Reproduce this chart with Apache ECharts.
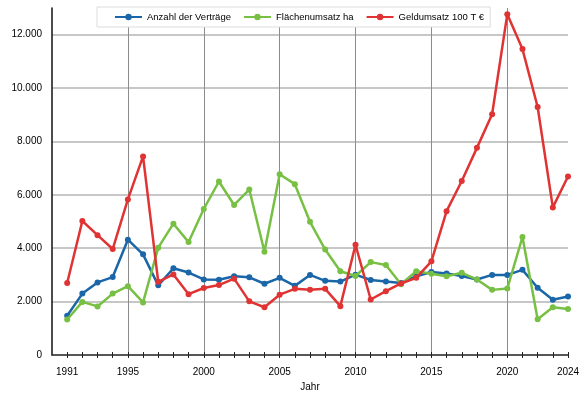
<!DOCTYPE html>
<html><head><meta charset="utf-8">
<script src="https://cdn.jsdelivr.net/npm/echarts@6/dist/echarts.min.js"></script>
<style>html,body{margin:0;padding:0;background:#fff}#c{width:586px;height:393px}</style>
</head><body><div id="c"></div>
<script>
const years = [];
for (let y = 1991; y <= 2024; y++) years.push(y);
const labelYears = [1991, 1995, 2000, 2005, 2010, 2015, 2020, 2024];
const gridYears = [1995, 2000, 2005, 2010, 2015, 2020];
const yTicks = [0, 2000, 4000, 6000, 8000, 10000, 12000];
const seriesNames = ['Anzahl der Verträge', 'Flächenumsatz ha', 'Geldumsatz 100 T €'];
const anzahl = [1470, 2300, 2720, 2920, 4320, 3770, 2610, 3250, 3090, 2830, 2820, 2950, 2910, 2670, 2890, 2590, 3000, 2780, 2750, 3010, 2810, 2750, 2700, 2950, 3110, 3050, 2960, 2830, 3000, 3000, 3190, 2520, 2070, 2190];
const flaeche = [1330, 1990, 1820, 2300, 2580, 1970, 4020, 4920, 4230, 5470, 6500, 5620, 6200, 3870, 6770, 6400, 4990, 3950, 3140, 2960, 3480, 3370, 2650, 3140, 3040, 2950, 3080, 2830, 2440, 2490, 4420, 1340, 1790, 1720];
const geld = [2700, 5020, 4490, 3970, 5830, 7440, 2740, 3020, 2280, 2510, 2620, 2860, 2010, 1790, 2260, 2480, 2440, 2480, 1830, 4130, 2080, 2390, 2680, 2890, 3510, 5390, 6520, 7760, 9020, 12770, 11460, 9290, 5530, 6690];
const colors = ['#1a66a8', '#78c043', '#e03333'];
const FONT = '"Liberation Sans Narrow", "Arial Narrow", "Liberation Sans", Arial, sans-serif';

const chart = echarts.init(document.getElementById('c'), null, {renderer: 'canvas'});
function mk(name, vals, i) {
  return {
    name: name, type: 'line', xAxisIndex: 0, yAxisIndex: 0,
    data: years.map((y, k) => [y, vals[k]]),
    symbol: 'circle', symbolSize: 6, showSymbol: true,
    lineStyle: {width: 2.5, color: colors[i]},
    itemStyle: {color: colors[i]},
    z: 3 + i, animation: false
  };
}
chart.setOption({
  animation: false,
  textStyle: {fontFamily: FONT},
  grid: {left: 52, right: 18, top: 8, bottom: 38, containLabel: false, outerBoundsMode: 'none'},
  legend: {
    left: 97, top: 7, padding: [5, 6, 5, 17], itemGap: 12, itemWidth: 27, itemHeight: 8,
    backgroundColor: '#fff', borderColor: '#dcdcdc', borderWidth: 1, z: 10,
    textStyle: {fontFamily: FONT, fontSize: 9.5, color: '#000'},
    data: seriesNames
  },
  xAxis: [
    {
      type: 'value', min: 1990, max: 2024, position: 'bottom',
      name: 'Jahr', nameLocation: 'middle', nameGap: 24,
      nameTextStyle: {fontFamily: FONT, fontSize: 10, color: '#000'},
      axisLine: {show: true, lineStyle: {color: '#333', width: 1.5}},
      axisTick: {show: true, customValues: years, length: 3, lineStyle: {color: '#222', width: 1}},
      axisLabel: {customValues: labelYears, fontFamily: FONT, fontSize: 10, color: '#000', margin: 12,
        formatter: v => String(v)},
      splitLine: {show: false}
    },
    {
      type: 'value', min: 1990, max: 2024, position: 'top',
      axisLine: {show: false, onZero: true, onZeroAxisIndex: 0},
      axisTick: {show: true, inside: false, customValues: years, length: 3, lineStyle: {color: '#222', width: 1}},
      axisLabel: {show: false},
      splitLine: {show: false}
    },
    {
      type: 'value', min: 1990, max: 2024, position: 'bottom',
      axisLine: {show: false},
      axisTick: {show: false, customValues: gridYears},
      axisLabel: {show: false},
      splitLine: {show: true, lineStyle: {color: '#8c8c8c', width: 1}}
    }
  ],
  yAxis: {
    type: 'value', min: 0, max: 13000,
    name: 'Anzahl / ha / 100 T €', nameLocation: 'middle', nameGap: 42, nameRotate: 90,
    nameTextStyle: {fontFamily: FONT, fontSize: 10, color: '#000'},
    axisLine: {show: true, lineStyle: {color: '#111', width: 1.5}},
    axisTick: {show: false, customValues: yTicks},
    axisLabel: {customValues: yTicks, fontFamily: FONT, fontSize: 10, color: '#000', margin: 10,
      formatter: v => v === 0 ? '0' : (v / 1000).toFixed(0) + '.000'},
    splitLine: {show: true, lineStyle: {color: '#b4b4b4', width: 1.5}}
  },
  series: [mk(seriesNames[0], anzahl, 0), mk(seriesNames[1], flaeche, 1), mk(seriesNames[2], geld, 2)]
});
</script></body></html>
